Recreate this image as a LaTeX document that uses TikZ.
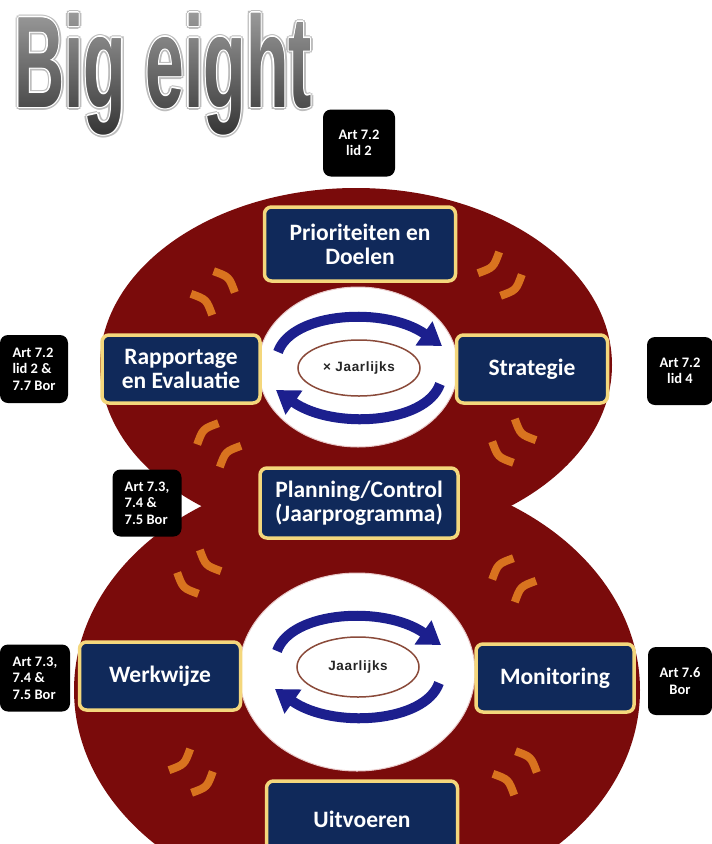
\documentclass[tikz,border=0pt]{standalone}
\usepackage{fontspec}
\usetikzlibrary{arrows.meta,calc,fadings,shapes.geometric}
\newfontfamily\boxfont{Carlito}
\newfontfamily\titlefont{Liberation Sans}
\newfontfamily\jfont{Liberation Sans}[LetterSpace=5]
\definecolor{maroon8}{HTML}{7A0B0B}
\definecolor{navybox}{HTML}{10295A}
\definecolor{rimyellow}{HTML}{F4D77C}
\definecolor{arrowblue}{HTML}{1C1F8E}
\definecolor{markorange}{HTML}{D9731F}
\definecolor{jbrown}{HTML}{8A4A3A}
\definecolor{pinkedge}{HTML}{E8C8C8}
\definecolor{titletop}{HTML}{A0A0A0}
\definecolor{titlebot}{HTML}{2E2E2E}
\definecolor{titlemid}{HTML}{666666}
\definecolor{halogray}{HTML}{BDBDBD}

\newcommand\titletext{\scalebox{0.535}[1]{Big eight}}
\newcommand\titlefontsel{\titlefont\bfseries\fontsize{130}{130}\selectfont}

\begin{tikzfadingfrompicture}[name=titlefade]
\node[text=transparent!0, inner sep=0pt, font=\titlefontsel] {\titletext};
\end{tikzfadingfrompicture}

\newcommand\orangemarks[3]{%
  \foreach \s in {-16,16} {%
    \draw[markstroke] ($(#1,#2)+(#3:\s)+(#3+90:15)+(#3+180:3)$) .. controls ($(#1,#2)+(#3:\s)+(#3:4)$) .. ($(#1,#2)+(#3:\s)+(#3-90:15)+(#3+180:3)$);
  }%
}

\begin{document}
\begin{tikzpicture}[x=1pt,y=-1pt,
  bluebox/.style={draw=rimyellow, line width=3.5pt, fill=navybox, rounded corners=7pt,
    text=white, font=\boxfont\bfseries\fontsize{23.5}{24}\selectfont, align=center, inner sep=0pt},
  blackbox/.style={fill=black, rounded corners=8pt, text=white,
    font=\boxfont\bfseries\fontsize{14.5}{16.5}\selectfont, inner sep=0pt},
  jellipse/.style={ellipse, draw=jbrown, line width=1.5pt, fill=white, inner sep=0pt,
    minimum width=122pt, minimum height=56pt, text=black!85,
    font=\jfont\bfseries\fontsize{13.5}{15}\selectfont},
  bluearrow/.style={draw=arrowblue, line width=10pt, -{Triangle[width=28pt,length=22pt]}},
  markstroke/.style={draw=markorange, line width=8pt},
  titlenode/.style={inner sep=0pt, font=\titlefontsel}
]
\useasboundingbox (0,0) rectangle (712,844);
\clip (0,0) rectangle (712,844);
\fill[white] (0,0) rectangle (712,844);

% figure eight
\fill[maroon8] (356,365) ellipse [x radius=256pt, y radius=177pt];
\fill[maroon8] (357,690) ellipse [x radius=283pt, y radius=220pt];
\fill[white, draw=pinkedge, line width=1pt] (358,367) ellipse [x radius=100pt, y radius=80pt];
\fill[white, draw=pinkedge, line width=1pt] (357,672) ellipse [x radius=118pt, y radius=99pt];

% cycle arrows
\draw[bluearrow] (278,352) .. controls (292,312) and (385,306) .. (442,346);
\draw[bluearrow] (440,384) .. controls (426,424) and (333,430) .. (276,390);
\draw[bluearrow] (277,651) .. controls (291,611) and (384,605) .. (441,645);
\draw[bluearrow] (439,683) .. controls (425,723) and (332,729) .. (275,689);

\node[jellipse] (j1) at (359,368) {× Jaarlijks};
\node[jellipse, minimum height=60pt] (j2) at (358,667) {Jaarlijks};

% orange motion marks
\orangemarks{215}{291}{-45}
\orangemarks{502}{276}{45}
\orangemarks{512}{443}{135}
\orangemarks{217}{443}{-135}
\orangemarks{197}{574}{135}
\orangemarks{512}{578}{-135}
\orangemarks{193}{773}{45}
\orangemarks{517}{771}{-45}

% blue boxes
\node[bluebox, minimum width=191pt, minimum height=74pt] (prio) at (360,244) {Prioriteiten en\\Doelen};
\node[bluebox, minimum width=158pt, minimum height=68pt] (rapp) at (181,369) {Rapportage\\en Evaluatie};
\node[bluebox, minimum width=151pt, minimum height=68pt] (strat) at (532,369) {Strategie};
\node[bluebox, minimum width=198pt, minimum height=70pt] (plan) at (359,503) {Planning/Control\\(Jaarprogramma)};
\node[bluebox, minimum width=161pt, minimum height=68pt] (werk) at (160,676) {Werkwijze};
\node[bluebox, minimum width=158pt, minimum height=68pt] (moni) at (555,678) {Monitoring};
\node[bluebox, minimum width=191pt, minimum height=76pt] (uitv) at (362,819) {Uitvoeren};

% black article boxes
\node[blackbox, minimum width=72pt, minimum height=67pt, align=center] (b1) at (359,143) {Art 7.2\\lid 2};
\node[blackbox, minimum width=68pt, minimum height=68pt, align=left] (b2) at (34,369) {Art 7.2\\lid 2 \&\\7.7 Bor};
\node[blackbox, minimum width=66pt, minimum height=68pt, align=center] (b3) at (680,371) {Art 7.2\\lid 4};
\node[blackbox, minimum width=69pt, minimum height=67pt, align=left] (b4) at (147,503) {Art 7.3,\\7.4 \&\\7.5 Bor};
\node[blackbox, minimum width=70pt, minimum height=67pt, align=left] (b5) at (35,678) {Art 7.3,\\7.4 \&\\7.5 Bor};
\node[blackbox, minimum width=64pt, minimum height=68pt, align=center] (b6) at (680,681) {Art 7.6\\Bor};

% title: halo (masked fills), real text, gradient overlay
\foreach \dx/\dy in {3/0,-3/0,0/3,0/-3,2.2/2.2,-2.2/2.2,2.2/-2.2,-2.2/-2.2} {
  \fill[halogray, path fading=titlefade, fit fading=false,
    fading transform={shift={(163+\dx,74+\dy)}}] (-7,0) rectangle (340,150);
}
\foreach \dx/\dy in {1.4/0,-1.4/0,0/1.4,0/-1.4,1/1,-1/1,1/-1,-1/-1} {
  \fill[white, path fading=titlefade, fit fading=false,
    fading transform={shift={(163+\dx,74+\dy)}}] (-7,0) rectangle (340,150);
}
\node[titlenode, text=titlemid] (title) at (163,74) {\titletext};
\shade[top color=titletop, bottom color=titlebot, path fading=titlefade, fit fading=false,
  fading transform={shift={(163,74)}}]
  (-7,4) rectangle (333,144);
\end{tikzpicture}
\end{document}
